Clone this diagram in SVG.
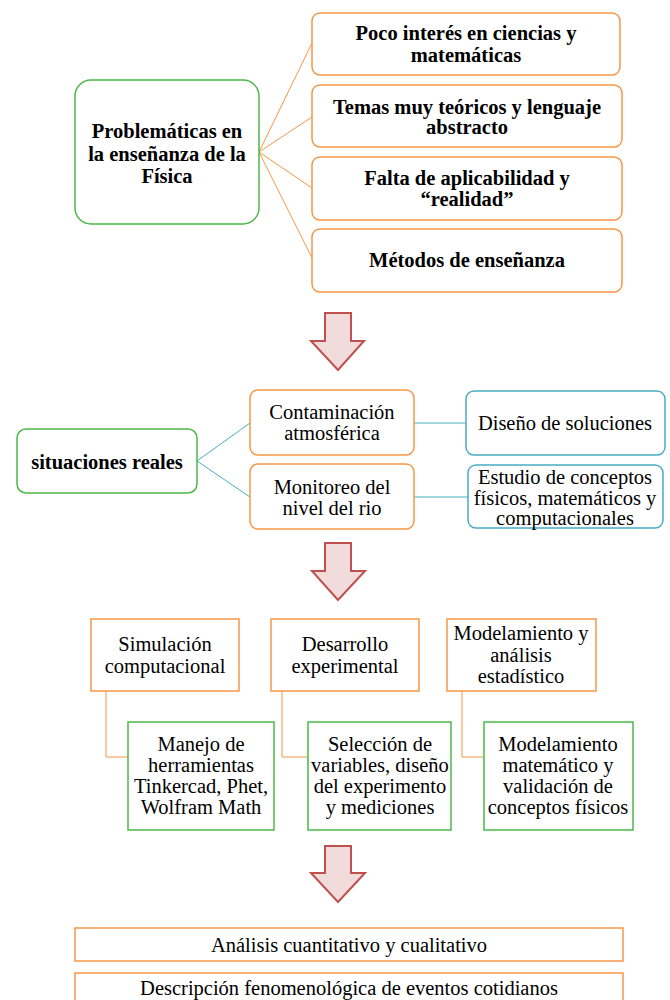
<svg xmlns="http://www.w3.org/2000/svg" width="670" height="1000" viewBox="0 0 670 1000">
<style>
text{font-family:"Liberation Serif","Times New Roman",serif;font-size:20.5px;fill:#000;text-anchor:middle}
.b{font-weight:bold}
.or{fill:#fff;stroke:#F79646;stroke-width:1.5}
.gr{fill:#fff;stroke:#4CB848;stroke-width:1.5}
.bl{fill:#fff;stroke:#4BACC6;stroke-width:1.5}
.lo{fill:none;stroke:#F79646;stroke-width:1}
.lb{fill:none;stroke:#4BACC6;stroke-width:1}
.arr{fill:#F2DCDB;stroke:#C0504D;stroke-width:2}
</style>
<rect width="670" height="1000" fill="#fff"/>
<g id="connectors">
<path class="lo" d="M259 152L312 43M259 152L312 117M259 152L312 188M259 152L312 258"/>
<path class="lb" d="M197 461L250 423M197 461L250 497M414 423L466 423M414 497L468 497"/>
<path class="lo" d="M106 691V757H128M282 691V757H308M462 691V757H484"/>
</g>
<g id="n_problematicas"><rect class="gr" x="75" y="80" width="184" height="144" rx="16"/>
<text class="b" x="167" y="138">Problemáticas en</text><text class="b" x="167" y="161">la enseñanza de la</text><text class="b" x="167" y="183">Física</text></g>
<g id="n_poco"><rect class="or" x="312" y="13" width="308" height="62" rx="8"/>
<text class="b" x="466" y="40">Poco interés en ciencias y</text><text class="b" x="466" y="62">matemáticas</text></g>
<g id="n_temas"><rect class="or" x="312" y="85" width="310" height="62" rx="8"/>
<text class="b" x="467" y="114">Temas muy teóricos y lenguaje</text><text class="b" x="467" y="134">abstracto</text></g>
<g id="n_falta"><rect class="or" x="312" y="157" width="310" height="63" rx="8"/>
<text class="b" x="467" y="185">Falta de aplicabilidad y</text><text class="b" x="467" y="206">“realidad”</text></g>
<g id="n_metodos"><rect class="or" x="312" y="229" width="310" height="63" rx="8"/>
<text class="b" x="467" y="267">Métodos de enseñanza</text></g>
<g id="arrow1"><path class="arr" d="M325 313H351V341H364L338 370L311 341H325Z"/></g>
<g id="n_situaciones"><rect class="gr" x="17" y="429" width="180" height="64" rx="9"/>
<text class="b" x="107" y="469">situaciones reales</text></g>
<g id="n_contaminacion"><rect class="or" x="250" y="390" width="164" height="65" rx="8"/>
<text x="332" y="419">Contaminación</text><text x="332" y="440">atmosférica</text></g>
<g id="n_monitoreo"><rect class="or" x="250" y="464" width="164" height="65" rx="8"/>
<text x="332" y="494">Monitoreo del</text><text x="332" y="515">nivel del rio</text></g>
<g id="n_diseno"><rect class="bl" x="466" y="391" width="199" height="64" rx="8"/>
<text x="565" y="430">Diseño de soluciones</text></g>
<g id="n_estudio"><rect class="bl" x="468" y="465" width="195" height="63" rx="8"/>
<text x="565" y="484">Estudio de conceptos</text><text x="565" y="505">físicos, matemáticos y</text><text x="565" y="525">computacionales</text></g>
<g id="arrow2"><path class="arr" d="M325 543H351V571H365L338 600L312 571H325Z"/></g>
<g id="n_simulacion"><rect class="or" x="91" y="619" width="148" height="72"/>
<text x="165" y="651">Simulación</text><text x="165" y="673">computacional</text></g>
<g id="n_desarrollo"><rect class="or" x="271" y="619" width="148" height="72"/>
<text x="345" y="651">Desarrollo</text><text x="345" y="673">experimental</text></g>
<g id="n_modelamiento"><rect class="or" x="447" y="619" width="149" height="72"/>
<text x="521" y="640">Modelamiento y</text><text x="521" y="662">análisis</text><text x="521" y="683">estadístico</text></g>
<g id="n_manejo"><rect class="gr" x="128" y="722" width="146" height="108"/>
<text x="201" y="751">Manejo de</text><text x="201" y="772">herramientas</text><text x="201" y="793">Tinkercad, Phet,</text><text x="201" y="814">Wolfram Math</text></g>
<g id="n_seleccion"><rect class="gr" x="308" y="722" width="143" height="108"/>
<text x="380" y="751">Selección de</text><text x="380" y="772">variables, diseño</text><text x="380" y="793">del experimento</text><text x="380" y="814">y mediciones</text></g>
<g id="n_modmat"><rect class="gr" x="484" y="722" width="149" height="108"/>
<text x="558" y="751">Modelamiento</text><text x="558" y="772">matemático y</text><text x="558" y="793">validación de</text><text x="558" y="814">conceptos físicos</text></g>
<g id="arrow3"><path class="arr" d="M325 846H351V873H365L338 902L311 873H325Z"/></g>
<g id="n_analisis"><rect class="or" x="75" y="928" width="548" height="33"/>
<text x="349" y="952">Análisis cuantitativo y cualitativo</text></g>
<g id="n_descripcion"><rect class="or" x="75" y="973" width="548" height="40"/>
<text x="349" y="995">Descripción fenomenológica de eventos cotidianos</text></g>
</svg>
